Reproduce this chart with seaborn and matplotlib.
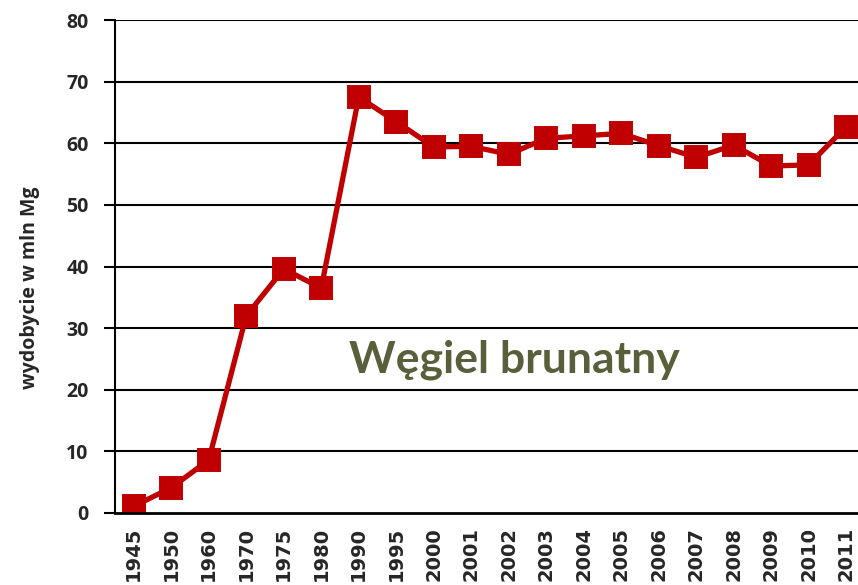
import pandas as pd
import matplotlib
matplotlib.use("Agg")
import matplotlib.pyplot as plt
import seaborn as sns

years = ["1945", "1950", "1960", "1970", "1975", "1980", "1990", "1995", "2000", "2001",
         "2002", "2003", "2004", "2005", "2006", "2007", "2008", "2009", "2010", "2011"]
output_mln_mg = [1.1, 4.1, 8.6, 32.0, 39.6, 36.5, 67.5, 63.5, 59.4, 59.5,
                 58.2, 60.8, 61.2, 61.6, 59.6, 57.7, 59.7, 56.3, 56.5, 62.7]
y_ticks = [0, 10, 20, 30, 40, 50, 60, 70, 80]

RED = "#C00000"
OLIVE = "#595E3B"


def main():
    sns.set_style("white")
    plt.rcParams["font.family"] = ["Open Sans", "DejaVu Sans"]

    df = pd.DataFrame({"year": years, "value": output_mln_mg})

    fig = plt.figure(figsize=(8.58, 5.85), dpi=100)
    ax = fig.add_axes([115 / 858, 72 / 585, 750 / 858, 493 / 585])

    sns.pointplot(data=df, x="year", y="value", order=years, color=RED,
                  markers="s", markersize=14, linewidth=3.8, errorbar=None, ax=ax)

    ax.set_ylim(0, 80)
    ax.set_xlim(-0.5, len(years) - 0.5)
    ax.set_yticks(y_ticks)
    for t in y_ticks[1:]:
        ax.axhline(t, color="black", lw=1.5, zorder=0)

    ax.set_yticklabels([str(t) for t in y_ticks], fontsize=14, fontweight="bold")
    ax.set_xticks(range(len(years)))
    ax.set_xticklabels(years, rotation=90, fontsize=14, fontweight="bold",
                       family="DejaVu Sans", va="top")
    ax.set_xticks([i - 0.5 for i in range(len(years) + 1)], minor=True)
    ax.tick_params(axis="x", which="major", length=0, pad=10)
    ax.tick_params(axis="x", which="minor", length=8, width=1.5, color="black", direction="out")
    ax.tick_params(axis="y", length=8, width=1.5, color="black", direction="out", pad=11, left=True)

    for side in ["top", "right"]:
        ax.spines[side].set_visible(False)
    ax.spines["left"].set_color("black")
    ax.spines["left"].set_linewidth(1.5)
    ax.spines["bottom"].set_color("black")
    ax.spines["bottom"].set_linewidth(2)

    ax.set_xlabel("")
    ax.set_ylabel("")
    fig.text(30 / 858, 1 - 288 / 585, "wydobycie w mln Mg", rotation=90,
             ha="center", va="center", fontsize=14, fontweight="bold")

    ax.text(0.533, 0.31, "Węgiel brunatny", transform=ax.transAxes, ha="center", va="center",
            fontsize=32, fontweight="bold", color=OLIVE, family=["Lato", "DejaVu Sans"])

    fig.savefig("out.png", dpi=100)


if __name__ == "__main__":
    main()
